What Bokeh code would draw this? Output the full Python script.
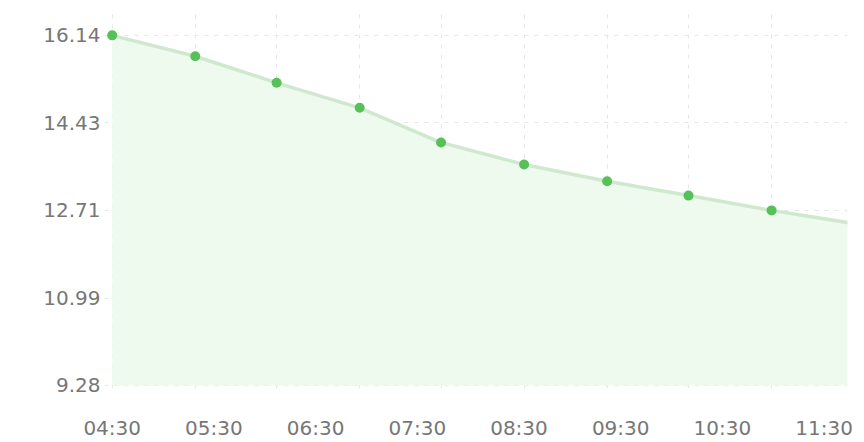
from bokeh.plotting import figure
from bokeh.models import FixedTicker, Range1d, ColumnDataSource
from bokeh.embed import file_html
from bokeh.resources import INLINE

# ---- data ----
times = ["04:30", "05:19", "06:07", "06:56", "07:44", "08:33", "09:22", "10:10", "10:59", "11:48"]
values = [16.14, 15.73, 15.21, 14.72, 14.04, 13.61, 13.28, 13.00, 12.71, 12.45]
y_ticks = [9.28, 10.99, 12.71, 14.43, 16.14]
x_tick_labels = ["04:30", "05:30", "06:30", "07:30", "08:30", "09:30", "10:30", "11:30"]


def to_min(s):
    h, m = s.split(":")
    return int(h) * 60 + int(m)


xs = [to_min(t) for t in times]
x_ticks = [to_min(t) for t in x_tick_labels]

src = ColumnDataSource(dict(x=xs, y=values, base=[y_ticks[0]] * len(xs)))

p = figure(width=864, height=442, output_backend="svg", toolbar_location=None,
           x_range=Range1d(265.46, 703.8), y_range=Range1d(9.22, 16.627),
           min_border_left=104, min_border_right=17, min_border_top=10, min_border_bottom=52)
p.outline_line_color = None
p.background_fill_color = "white"
p.border_fill_color = "white"

# area, line, points
p.varea(x="x", y1="base", y2="y", source=src, fill_color="#eefaee")
p.line(x="x", y="y", source=src, line_color="#cfe9cf", line_width=3.5)
p.scatter(x="x", y="y", source=src, size=10, fill_color="#58c058", line_color=None)

# axes
for ax in (p.xaxis[0], p.yaxis[0]):
    ax.axis_line_color = None
    ax.major_tick_line_color = None
    ax.minor_tick_line_color = None
    ax.major_tick_out = 0
    ax.major_tick_in = 0
    ax.major_label_text_font = "DejaVu Sans"
    ax.major_label_text_font_size = "20px"
    ax.major_label_text_color = "#777777"

p.yaxis[0].ticker = FixedTicker(ticks=y_ticks)
p.yaxis[0].major_label_overrides = {t: f"{t:.2f}" for t in y_ticks}
p.yaxis[0].major_label_standoff = 4
p.yaxis[0].major_label_text_baseline = "alphabetic"

p.xaxis[0].ticker = FixedTicker(ticks=x_ticks)
p.xaxis[0].major_label_overrides = {t: l for t, l in zip(x_ticks, x_tick_labels)}
p.xaxis[0].major_label_standoff = 27

# grids
p.xgrid.ticker = FixedTicker(ticks=xs)
for g in (p.xgrid, p.ygrid):
    g.grid_line_color = "#e6e6e6"
    g.grid_line_dash = "4 6"
    g.grid_line_width = 1

open("out.html", "w").write(file_html(p, INLINE))
